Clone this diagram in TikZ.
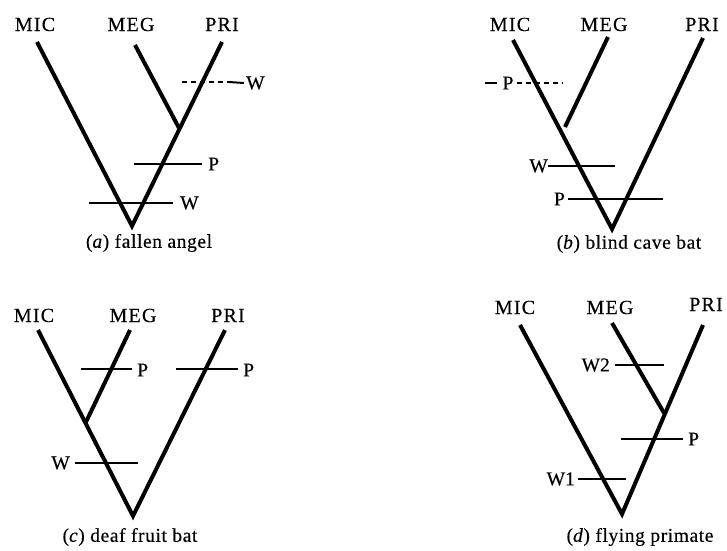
\documentclass[tikz,border=0pt]{standalone}
\usepackage{fontspec}
\setmainfont{Liberation Serif}[FakeBold=0.4]
\newfontfamily\taxonfont[LetterSpace=6,FakeBold=0.4]{Liberation Serif}
\newfontfamily\captfont[LetterSpace=3,FakeBold=0.3]{Liberation Serif}
\begin{document}
\begin{tikzpicture}[x=1pt,y=-1pt,
  branch/.style={line width=4pt,line join=miter},
  bar/.style={line width=2.7pt},
  dbar/.style={line width=2pt,dash pattern=on 5pt off 4pt},
  lbl/.style={inner sep=0pt,font=\taxonfont\fontsize{20}{22}\selectfont},
  tag/.style={inner sep=0pt,font=\fontsize{19.5}{21}\selectfont},
  capt/.style={inner sep=0pt,font=\captfont\fontsize{19.5}{21}\selectfont}]
\useasboundingbox[fill=white] (0,0) rectangle (727,550);

% ---------- (a) fallen angel ----------
\coordinate (a-mic) at (37,42);
\coordinate (a-meg) at (135,45);
\coordinate (a-pri) at (222,42);
\coordinate (a-j)   at (179,128);
\coordinate (a-root) at (132,226);
\node[lbl,anchor=base] (a-micl) at (35,31) {MIC};
\node[lbl,anchor=base] (a-megl) at (131,31) {MEG};
\node[lbl,anchor=base] (a-pril) at (222,31) {PRI};
\draw[branch] (a-mic) -- (a-root) -- (a-pri);
\draw[branch] (a-meg) -- (a-j);
\node[tag,anchor=west] (a-w1) at (246,83) {W};
\coordinate (a-w1s) at (182,82);
\coordinate (a-w1m) at (229,82);
\draw[dbar] (a-w1s) -- (a-w1m);
\draw[bar,line width=2pt] (a-w1m) -- ([xshift=-2pt]a-w1.west);
\node[tag,anchor=west] (a-p) at (208,164) {P};
\coordinate (a-ps) at (134,164);
\draw[bar] (a-ps) -- ([xshift=-6pt]a-p.west);
\node[tag,anchor=west] (a-w2) at (180,203) {W};
\coordinate (a-w2s) at (89,203);
\draw[bar] (a-w2s) -- ([xshift=-7pt]a-w2.west);
\node[capt] (a-cap) at (149,243) {(\textit{a}) fallen angel};

% ---------- (b) blind cave bat ----------
\coordinate (b-mic) at (513,40);
\coordinate (b-meg) at (608,37);
\coordinate (b-megend) at (565,127);
\coordinate (b-pri) at (703,38);
\coordinate (b-root) at (612,229);
\node[lbl,anchor=base] (b-micl) at (510,31) {MIC};
\node[lbl,anchor=base] (b-megl) at (604,31) {MEG};
\node[lbl,anchor=base] (b-pril) at (702,31) {PRI};
\draw[branch] (b-mic) -- (b-root) -- (b-pri);
\draw[branch] (b-meg) -- (b-megend);
\node[tag] (b-p1) at (508,83) {P};
\coordinate (b-p1l) at (485,83);
\coordinate (b-p1r) at (563,83);
\draw[bar,line width=2pt] (b-p1l) -- ([xshift=-5pt]b-p1.west);
\draw[dbar] ([xshift=3pt]b-p1.east) -- (b-p1r);
\node[tag,anchor=east] (b-w) at (548,166) {W};
\coordinate (b-we) at (615,166);
\draw[bar] (b-w.east) -- (b-we);
\node[tag,anchor=east] (b-p2) at (565,199) {P};
\coordinate (b-p2e) at (663,199);
\draw[bar] ([xshift=3pt]b-p2.east) -- (b-p2e);
\node[capt] (b-cap) at (629,244) {(\textit{b}) blind cave bat};

% ---------- (c) deaf fruit bat ----------
\coordinate (c-mic) at (38,330);
\coordinate (c-meg) at (130,330);
\coordinate (c-j)   at (86,422);
\coordinate (c-pri) at (225,330);
\coordinate (c-root) at (133,516);
\node[lbl,anchor=base] (c-micl) at (34,322) {MIC};
\node[lbl,anchor=base] (c-megl) at (133,322) {MEG};
\node[lbl,anchor=base] (c-pril) at (228,322) {PRI};
\draw[branch] (c-mic) -- (c-root) -- (c-pri);
\draw[branch] (c-meg) -- (c-j);
\node[tag,anchor=west] (c-p1) at (137,370) {P};
\coordinate (c-p1s) at (81,369);
\draw[bar] (c-p1s) -- ([xshift=-5pt]c-p1.west |- c-p1s);
\node[tag,anchor=west] (c-p2) at (243,370) {P};
\coordinate (c-p2s) at (176,369);
\draw[bar] (c-p2s) -- ([xshift=-5pt]c-p2.west |- c-p2s);
\node[tag,anchor=east] (c-w) at (70,463) {W};
\coordinate (c-we) at (138,463);
\draw[bar] ([xshift=5pt]c-w.east) -- (c-we);
\node[capt] (c-cap) at (130,537) {(\textit{c}) deaf fruit bat};

% ---------- (d) flying primate ----------
\coordinate (d-mic) at (520,325);
\coordinate (d-meg) at (612,323);
\coordinate (d-j)   at (664,413);
\coordinate (d-pri) at (703,325);
\coordinate (d-root) at (622,514);
\node[lbl,anchor=base] (d-micl) at (515,314) {MIC};
\node[lbl,anchor=base] (d-megl) at (610,314) {MEG};
\node[lbl,anchor=base] (d-pril) at (706,311) {PRI};
\draw[branch] (d-mic) -- (d-root) -- (d-pri);
\draw[branch] (d-meg) -- (d-j);
\node[tag,anchor=east] (d-w2) at (610,365) {W2};
\coordinate (d-w2e) at (664,365);
\draw[bar] ([xshift=5pt]d-w2.east) -- (d-w2e);
\node[tag,anchor=west] (d-p) at (688,439) {P};
\coordinate (d-ps) at (621,439);
\draw[bar] (d-ps) -- ([xshift=-5pt]d-p.west);
\node[tag,anchor=east] (d-w1) at (575,479) {W1};
\coordinate (d-w1e) at (626,479);
\draw[bar] ([xshift=3pt]d-w1.east) -- (d-w1e);
\node[capt] (d-cap) at (640,537) {(\textit{d}) flying primate};
\end{tikzpicture}
\end{document}
